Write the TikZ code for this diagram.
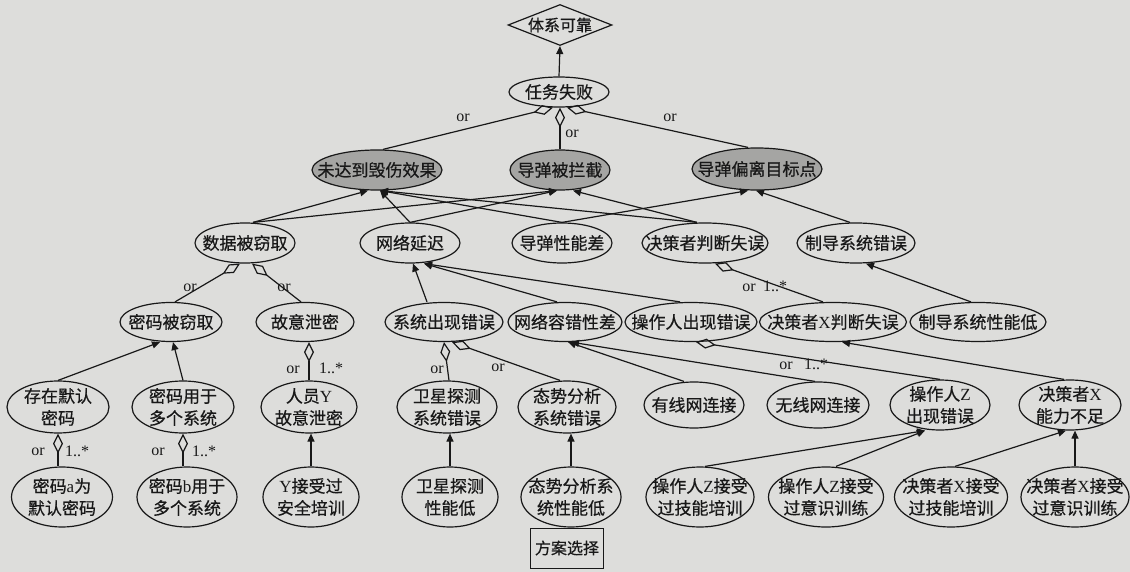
\documentclass[tikz,border=0pt]{standalone}
\usepackage{fontspec}
\setmainfont{Liberation Serif}
\newfontfamily\cjk{Noto Sans CJK SC}[FakeBold=0.6]
\usetikzlibrary{shapes.geometric,arrows.meta,calc}
\definecolor{paper}{RGB}{221,221,219}
\definecolor{ink}{RGB}{24,24,24}
\definecolor{shade}{RGB}{165,165,163}
\newcommand\lat[1]{{\rmfamily #1}}
\begin{document}
\begin{tikzpicture}[x=1pt,y=-1pt,
  ov/.style={ellipse, draw=ink, line width=1.2pt, fill=paper, inner sep=-30pt, align=center,
    text=ink, font=\cjk\fontsize{17}{22}\selectfont},
  gv/.style={ov, fill=shade},
  arr/.style={draw=ink, line width=1.2pt, -{Triangle[length=8pt,width=7pt]}},
  agg/.style={draw=ink, line width=1.2pt, -{Diamond[open,length=20pt,width=10pt]}},
  lab/.style={font=\rmfamily\fontsize{16}{16}\selectfont, inner sep=0pt, text=ink},
]
\fill[paper] (0,0) rectangle (1130,572);
\useasboundingbox (0,0) rectangle (1130,572);

% top
\node[diamond, draw=ink, line width=1.2pt, fill=paper, inner sep=0pt, aspect=2.54,
  minimum width=104, minimum height=41, text=ink, font=\cjk\fontsize{16}{19}\selectfont] (top) at (560,25) {体系可靠};
\node[ov, minimum width=100, minimum height=30] (fail) at (559,92) {任务失败};

% row 1
\node[gv, minimum width=130, minimum height=40] (n1a) at (377,170) {未达到毁伤效果};
\node[gv, minimum width=100, minimum height=40] (n1b) at (560,170) {导弹被拦截};
\node[gv, minimum width=130, minimum height=42] (n1c) at (757,169) {导弹偏离目标点};

% row 2
\node[ov, minimum width=100, minimum height=40] (n2a) at (245,243) {数据被窃取};
\node[ov, minimum width=100, minimum height=40] (n2b) at (410,243) {网络延迟};
\node[ov, minimum width=100, minimum height=40] (n2c) at (562,243) {导弹性能差};
\node[ov, minimum width=126, minimum height=40] (n2d) at (705,243) {决策者判断失误};
\node[ov, minimum width=118, minimum height=40] (n2e) at (856,243) {制导系统错误};

% row 3
\node[ov, minimum width=102, minimum height=39] (n3a) at (171,322) {密码被窃取};
\node[ov, minimum width=98,  minimum height=39] (n3b) at (305,322) {故意泄密};
\node[ov, minimum width=118, minimum height=39] (n3c) at (444,322) {系统出现错误};
\node[ov, minimum width=114, minimum height=39] (n3d) at (565,322) {网络容错性差};
\node[ov, minimum width=132, minimum height=39] (n3e) at (691,322) {操作人出现错误};
\node[ov, minimum width=147, minimum height=39] (n3f) at (833,322) {决策者\lat{X}判断失误};
\node[ov, minimum width=136, minimum height=39] (n3g) at (978,322) {制导系统性能低};

% row 4
\node[ov, minimum width=102, minimum height=52] (n4a) at (58,407) {存在默认\\密码};
\node[ov, minimum width=102, minimum height=52] (n4b) at (183,407) {密码用于\\多个系统};
\node[ov, minimum width=96,  minimum height=52] (n4c) at (309,407) {人员\lat{Y}\\故意泄密};
\node[ov, minimum width=100, minimum height=52] (n4d) at (447,407) {卫星探测\\系统错误};
\node[ov, minimum width=98,  minimum height=52] (n4e) at (567,407) {态势分析\\系统错误};
\node[ov, minimum width=100, minimum height=46] (n4f) at (694,405) {有线网连接};
\node[ov, minimum width=102, minimum height=46] (n4g) at (818,405) {无线网连接};
\node[ov, minimum width=100, minimum height=50] (n4h) at (940,405) {操作人\lat{Z}\\出现错误};
\node[ov, minimum width=102, minimum height=50] (n4i) at (1070,405) {决策者\lat{X}\\能力不足};

% row 5
\node[ov, minimum width=101, minimum height=60] (n5a) at (62,497) {密码\lat{a}为\\默认密码};
\node[ov, minimum width=100, minimum height=60] (n5b) at (187,497) {密码\lat{b}用于\\多个系统};
\node[ov, minimum width=96,  minimum height=60] (n5c) at (311,497) {\lat{Y}接受过\\安全培训};
\node[ov, minimum width=96,  minimum height=60] (n5d) at (450,497) {卫星探测\\性能低};
\node[ov, minimum width=100, minimum height=60] (n5e) at (571,497) {态势分析系\\统性能低};
\node[ov, minimum width=108, minimum height=60] (n5f) at (700,497) {操作人\lat{Z}接受\\过技能培训};
\node[ov, minimum width=115, minimum height=60] (n5g) at (826,497) {操作人\lat{Z}接受\\过意识训练};
\node[ov, minimum width=113, minimum height=60] (n5h) at (951,497) {决策者\lat{X}接受\\过技能培训};
\node[ov, minimum width=108, minimum height=60] (n5i) at (1075,497) {决策者\lat{X}接受\\过意识训练};

% plan box
\node[draw=ink, line width=1pt, fill=paper, minimum width=73, minimum height=40, inner sep=0pt,
  text=ink, font=\cjk\fontsize{16}{19}\selectfont] (plan) at (567,548) {方案选择};

% connectors: level 0
\draw[arr] (fail.north) -- (top.south);
\draw[agg] ($(n1a.north)+(6,0)$) -- ($(fail.south)+(-6,0)$);
\draw[agg] (n1b.north) -- (n1b.north |- fail.south);
\draw[agg] ($(n1c.north)+(-9,0)$) -- ($(fail.south)+(8,0)$);

% row 2 -> row 1
\draw[arr] ($(n2a.north)+(8,0)$) -- ($(n1a.south)+(-9,0)$);
\draw[arr] ($(n2a.north)+(8,0)$) -- ($(n1b.south)+(-3,0)$);
\draw[arr] (n2b.north) -- ($(n1a.south)+(3,0)$);
\draw[arr] (n2b.north) -- ($(n1b.south)+(-3,0)$);
\draw[arr] (n2c.north) -- ($(n1a.south)+(3,0)$);
\draw[arr] (n2c.north) -- ($(n1c.south)+(-9,0)$);
\draw[arr] ($(n2d.north)+(-8,0)$) -- ($(n1a.south)+(3,0)$);
\draw[arr] ($(n2d.north)+(-8,0)$) -- ($(n1b.south)+(13,0)$);
\draw[arr] ($(n2e.north)+(-6,0)$) -- ($(n1c.south)+(-1,0)$);

% row 3 -> row 2
\draw[agg] ($(n3a.north)+(4,0)$) -- ($(n2a.south)+(-5,0)$);
\draw[agg] ($(n3b.north)+(-4,0)$) -- ($(n2a.south)+(7,0)$);
\draw[arr] ($(n3c.north)+(-17,0)$) -- ($(n2b.south)+(3,0)$);
\draw[arr] ($(n3d.north)+(-8,0)$) -- ($(n2b.south)+(14,0)$);
\draw[arr] ($(n3e.north)+(-11,0)$) -- ($(n2b.south)+(14,0)$);
\draw[agg] ($(n3f.north)+(-10,0)$) -- ($(n2d.south)+(10,0)$);
\draw[arr] ($(n3g.north)+(-7,0)$) -- ($(n2e.south)+(10,0)$);

% row 4 -> row 3
\draw[arr] (n4a.north) -- ($(n3a.south)+(-11,0)$);
\draw[arr] (n4b.north) -- ($(n3a.south)+(2,0)$);
\draw[agg] (n4c.north) -- (n4c.north |- n3b.south);
\draw[agg] ($(n4d.north)+(2,0)$) -- (n3c.south);
\draw[agg] ($(n4e.north)+(-7,0)$) -- ($(n3c.south)+(8,0)$);
\draw[arr] ($(n4f.north)+(-10,0)$) -- ($(n3d.south)+(3,0)$);
\draw[arr] ($(n4g.north)+(-3,0)$) -- ($(n3d.south)+(6,0)$);
\draw[agg] (n4h.north) -- ($(n3e.south)+(5,0)$);
\draw[arr] ($(n4i.north)+(-6,0)$) -- ($(n3f.south)+(9,0)$);

% row 5 -> row 4
\draw[agg] ($(n5a.north)+(-4,0)$) -- (n4a.south);
\draw[agg] ($(n5b.north)+(-4,0)$) -- (n4b.south);
\draw[arr] (n5c.north) -- (n5c.north |- n4c.south);
\draw[arr] (n5d.north) -- (n5d.north |- n4d.south);
\draw[arr] (n5e.north) -- (n5e.north |- n4e.south);
\draw[arr] ($(n5f.north)+(5,0)$) -- ($(n4h.south)+(-15,0)$);
\draw[arr] ($(n5g.north)+(10,0)$) -- ($(n4h.south)+(-15,0)$);
\draw[arr] ($(n5h.north)+(4,0)$) -- ($(n4i.south)+(-4,0)$);
\draw[arr] (n5i.north) -- (n5i.north |- n4i.south);

% labels
\node[lab] (l1) at (463,118) {or};
\node[lab] (l2) at (572,134) {or};
\node[lab] (l3) at (670,118) {or};
\node[lab] (l4) at (190,288) {or};
\node[lab] (l5) at (284,288) {or};
\node[lab] (l6) at (749,288) {or};
\node[lab] (l7) at (775,286) {1..*};
\node[lab] (l8) at (293,370) {or};
\node[lab] (l9) at (331,368) {1..*};
\node[lab] (l10) at (437,370) {or};
\node[lab] (l11) at (498,368) {or};
\node[lab] (l12) at (786,366) {or};
\node[lab] (l13) at (816,364) {1..*};
\node[lab] (l14) at (38,452) {or};
\node[lab] (l15) at (77,451) {1..*};
\node[lab] (l16) at (158,452) {or};
\node[lab] (l17) at (204,451) {1..*};
\end{tikzpicture}
\end{document}
